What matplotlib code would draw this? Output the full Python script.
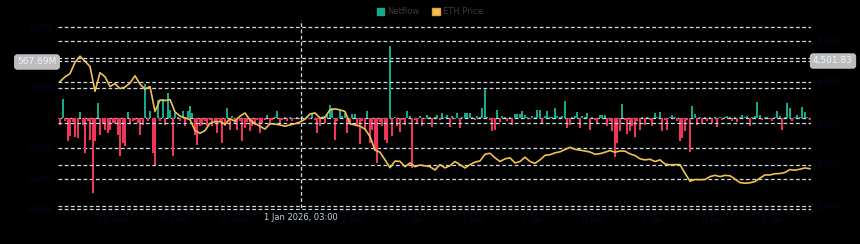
import numpy as np
import matplotlib.pyplot as plt
from matplotlib.patches import Patch

# hourly netflow (millions), hour 0 = 28 Dec 2025 03:00
netflow = [
    -66, 191, -26, -231, -182, -40, -188, -198, 56, -66,
    -347, -30, -215, -743, -231, 149, -165, -45, -116, -149,
    -116, -50, -50, -165, -380, -248, -281, 56, -50, -33,
    -20, -50, -165, -66, 340, -33, 66, -347, -462, 182,
    -33, 191, -66, 248, 83, -380, 50, 15, -33, 66,
    -83, 73, 116, 50, -165, -264, -83, -66, -25, -83,
    -20, -83, -30, -149, -25, -248, -83, 99, -116, 20,
    -50, -116, -30, -231, -99, -40, -132, -83, -66, -20,
    -149, -50, -15, 33, -66, -20, 12, 66, -50, -15,
    10, -33, 8, -33, -12, 10, -10, 16, -8, 12,
    -10, 50, -20, -149, -83, 15, -50, 33, 125, 99,
    -215, -25, 83, 20, 50, -149, -56, 40, 40, -83,
    -254, -30, -116, 66, -248, -116, -330, -446, -40, -83,
    -215, -248, 716, -182, 12, -83, -142, -20, -66, 66,
    16, -495, -15, -50, 18, -76, -12, 33, 15, -89,
    10, 33, -15, 50, 12, 33, -89, 20, -10, 50,
    -99, 15, 50, 50, 50, 12, -16, 23, 10, 99,
    287, 15, -20, -132, -116, 76, -43, 23, 12, -33,
    15, -66, 43, 43, 43, 73, 33, 12, -10, 20,
    15, 83, 76, -50, 20, 73, 15, 10, 99, 18,
    12, 25, 172, -99, -66, 15, 20, 56, -99, 18,
    12, 50, -116, 15, -20, -56, 33, 33, 33, -83,
    -25, -132, -386, -248, -132, 139, -20, -155, -132, -83,
    -188, -25, -116, 15, -66, 12, -15, -83, 50, 12,
    56, -132, -20, -116, 15, 33, 10, -33, -231, -198,
    -132, -20, -340, 122, 40, -66, 15, -56, 10, -33,
    12, -50, 15, -89, 12, -15, 10, 16, 12, -33,
    10, -43, 12, 33, 15, 23, -83, 12, 20, 162,
    33, -23, 15, 12, -10, -33, 15, 66, 20, -116,
    15, 149, 99, -26, 12, 26, 15, 106, 56, 12,
    -23,
]

# ETH price every 2 hours
price = [
    4402, 4425, 4440, 4495, 4525, 4500, 4475, 4355, 4445, 4425,
    4378, 4392, 4368, 4375, 4395, 4430, 4390, 4365, 4378, 4257,
    4313, 4310, 4315, 4255, 4235, 4226, 4218, 4165, 4152, 4165,
    4200, 4208, 4208, 4195, 4222, 4210, 4235, 4250, 4216, 4200,
    4185, 4172, 4198, 4196, 4192, 4186, 4192, 4198, 4206, 4220,
    4245, 4250, 4226, 4230, 4265, 4270, 4265, 4257, 4197, 4192,
    4186, 4172, 4136, 4070, 4060, 4023, 3985, 4017, 4016, 3990,
    4008, 3990, 3998, 3994, 3990, 3974, 4000, 3984, 3995, 4015,
    4000, 3984, 4000, 4012, 4018, 4050, 4055, 4033, 4015, 4028,
    4033, 4008, 4015, 4036, 4015, 4006, 4023, 4045, 4048, 4057,
    4062, 4073, 4084, 4074, 4070, 4066, 4061, 4050, 4053, 4060,
    4068, 4060, 4066, 4065, 4052, 4044, 4028, 4023, 4026, 4015,
    4023, 4003, 3999, 4000, 4000, 3958, 3920, 3928, 3927, 3928,
    3942, 3948, 3942, 3948, 3946, 3930, 3913, 3910, 3912, 3918,
    3935, 3950, 3950, 3956, 3957, 3962, 3976, 3973, 3978, 3984,
    3980,
]

flow_ticks = [-900, -600, -300, 0, 300, 600, 900]
flow_labels = ["-900M", "-600M", "-300M", "0", "300M", "600M", "900M"]
price_ticks = [3800, 4000, 4200, 4400, 4600]
price_labels = ["3,800", "4,000", "4,200", "4,400", "4,600"]
day_ticks = [21, 45, 69, 93, 117, 141, 165, 189, 213, 237, 261, 285]
day_labels = ["29 Dec", "30 Dec", "31 Dec", "2026", "2 Jan", "3 Jan",
              "4 Jan", "5 Jan", "6 Jan", "7 Jan", "8 Jan", "9 Jan"]

hours = np.arange(len(netflow))
price_hours = np.arange(len(price)) * 2
flow = np.array(netflow)

teal = "#17a88c"
red = "#f0345a"
gold = "#f2c14e"
grid_c = "#cfdde6"
faint = "#07071f"

fig = plt.figure(figsize=(8.6, 2.44), dpi=100, facecolor="black")
ax = fig.add_axes([58 / 860, 1 - 214 / 244, 753 / 860, 194 / 244])
ax.set_facecolor("black")
ax2 = ax.twinx()
ax2.patch.set_visible(False)

colors = np.where(flow >= 0, teal, red)
ax.bar(hours, flow, width=0.8, color=colors, zorder=2)
ax2.plot(price_hours, price, color=gold, lw=1.2, zorder=3)

ax.set_xlim(-0.8, 300.4)
ax.set_ylim(-950, 972)
ax2.set_ylim(3761, 4700)

ax.set_yticks(flow_ticks, flow_labels)
ax2.set_yticks(price_ticks, price_labels)
ax.set_xticks(day_ticks, day_labels)

for a in (ax, ax2):
    for s in a.spines.values():
        s.set_visible(False)
    a.tick_params(length=0, labelsize=6, colors=faint, pad=4)
    a.grid(axis="y", color=grid_c, ls=(0, (3, 2)), lw=0.9, zorder=1)
ax.tick_params(axis="x", pad=1)
ax.set_axisbelow(True)

# crosshair
ax.axvline(96.4, color="#d8d8d8", ls=(0, (3, 2)), lw=0.9, zorder=4)
ax2.axhline(4501.83, color=grid_c, ls=(0, (3, 2)), lw=0.9, zorder=4)

box = dict(boxstyle="round,pad=0.3,rounding_size=0.3", fc="#bdbdbd", ec="#d0d0d0", lw=0.6)
fig.text(37 / 860, 1 - 62 / 244, "567.69M", ha="center", va="center",
         fontsize=6.5, color="#e8f4ff", bbox=box, zorder=10)
fig.text(833 / 860, 1 - 61 / 244, "4,501.83", ha="center", va="center",
         fontsize=6.5, color="#e8f4ff", bbox=box, zorder=10)
fig.text(301 / 860, 1 - 217 / 244, "1 Jan 2026, 03:00", ha="center", va="center",
         fontsize=6, color="#c8d0dc", zorder=10,
         bbox=dict(boxstyle="square,pad=0.3", fc="black", ec="none"))

handles = [Patch(fc=teal, ec=teal, label="Netflow"),
           Patch(fc=gold, ec="#e0a050", label="ETH Price")]
fig.legend(handles=handles, loc="upper center", bbox_to_anchor=(0.5, 1.0),
           ncol=2, frameon=False, fontsize=6, labelcolor="#3c3c3c",
           handlelength=0.9, handleheight=0.9, columnspacing=1.5, handletextpad=0.4)

fig.savefig("out.png", dpi=100, facecolor="black")
